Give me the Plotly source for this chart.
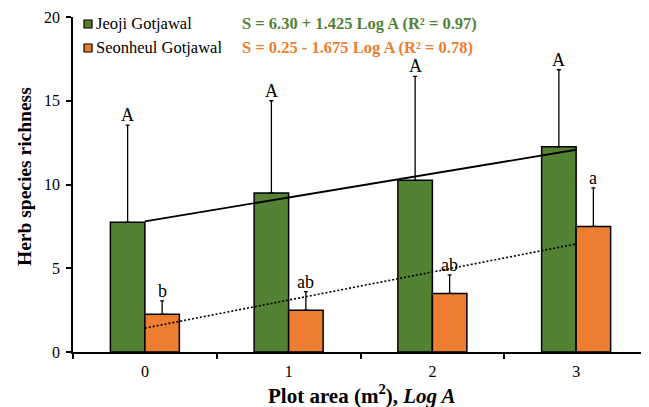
import numpy as np
import plotly.graph_objects as go

categories = ["0", "1", "2", "3"]
log_a = [0, 1, 2, 3]
jeoji = [7.75, 9.5, 10.25, 12.25]
jeoji_err = [5.8, 5.5, 6.2, 4.6]
seonheul = [2.25, 2.5, 3.5, 7.5]
seonheul_err = [0.8, 1.1, 1.1, 2.3]
jeoji_letters = ["A", "A", "A", "A"]
seonheul_letters = ["b", "ab", "ab", "a"]
series_names = ["Jeoji Gotjawal", "Seonheul Gotjawal"]
jeoji_eq = "S = 6.30 + 1.425 Log A (R² = 0.97)"
seonheul_eq = "S = 0.25 - 1.675 Log A (R² = 0.78)"
x_title = "<b>Plot area (m<sup>2</sup>), <i>Log A</i></b>"
y_title = "<b>Herb species richness</b>"

GREEN = "#548235"
ORANGE = "#ED7D31"
FONT = "Liberation Serif, Times New Roman, serif"

# page body has an 8px margin: shrink/shift the figure so it lands where the reference is
OFF = 8
W, H = 649 - OFF, 407 - OFF
ML, MR, MT, MB = 73 - OFF, 1, 17 - OFF, 407 - 352
PW, PH = W - ML - MR, H - MT - MB


def px_x(p):
    return (p - OFF - ML) / PW


def px_y(p):
    return (H - MB - (p - OFF)) / PH


fig = go.Figure()
fig.add_trace(go.Bar(
    x=categories, y=jeoji, name=series_names[0], showlegend=False,
    marker=dict(color=GREEN, line=dict(color="black", width=1.5)),
    error_y=dict(type="data", symmetric=False, array=jeoji_err,
                 arrayminus=[0] * 4, color="black", thickness=1.3, width=2),
))
fig.add_trace(go.Bar(
    x=categories, y=seonheul, name=series_names[1], showlegend=False,
    marker=dict(color=ORANGE, line=dict(color="black", width=1.5)),
    error_y=dict(type="data", symmetric=False, array=seonheul_err,
                 arrayminus=[0] * 4, color="black", thickness=1.3, width=2),
))

# linear trend lines (least squares on the bar means)
for vals, dash, wd in ((jeoji, "solid", 1.8), (seonheul, "2px,2px", 1.6)):
    slope, icpt = np.polyfit(log_a, vals, 1)
    xs = [log_a[0], log_a[-1]]
    fig.add_trace(go.Scatter(
        x=[categories[0], categories[-1]], y=[icpt + slope * v for v in xs],
        mode="lines", line=dict(color="black", width=wd, dash=dash),
        showlegend=False, hoverinfo="skip",
    ))

off = 0.12
for i in range(len(categories)):
    fig.add_annotation(x=i - off, y=jeoji[i] + jeoji_err[i], text=jeoji_letters[i],
                       showarrow=False, yanchor="bottom", yshift=-2,
                       font=dict(family=FONT, size=18, color="black"))
    fig.add_annotation(x=i + off, y=seonheul[i] + seonheul_err[i], text=seonheul_letters[i],
                       showarrow=False, yanchor="bottom", yshift=-2,
                       font=dict(family=FONT, size=18, color="black"))

# manual legend (small squares + labels) and regression equations
rows_y = [24, 48]
for name, col, eq, ry in ((series_names[0], GREEN, jeoji_eq, rows_y[0]),
                          (series_names[1], ORANGE, seonheul_eq, rows_y[1])):
    fig.add_shape(type="rect", xref="paper", yref="paper",
                  x0=px_x(84), x1=px_x(92), y0=px_y(ry + 4), y1=px_y(ry - 4),
                  fillcolor=col, line=dict(color="black", width=1.2))
    fig.add_annotation(xref="paper", yref="paper", x=px_x(94), y=px_y(ry),
                       xanchor="left", yanchor="middle", text=name, showarrow=False,
                       font=dict(family=FONT, size=16.5, color="black"))
    fig.add_annotation(xref="paper", yref="paper", x=px_x(240), y=px_y(ry),
                       xanchor="left", yanchor="middle", text="<b>" + eq + "</b>",
                       showarrow=False, font=dict(family=FONT, size=16.5, color=col))

# axis titles
fig.add_annotation(xref="paper", yref="paper", x=px_x(362), y=px_y(394),
                   xanchor="center", yanchor="middle", text=x_title, showarrow=False,
                   font=dict(family=FONT, size=21, color="black"))
fig.add_annotation(xref="paper", yref="paper", x=px_x(24), y=px_y(177),
                   xanchor="center", yanchor="middle", text=y_title, showarrow=False,
                   textangle=-90, font=dict(family=FONT, size=19.5, color="black"))

fig.update_layout(
    width=W, height=H,
    margin=dict(l=ML, r=MR, t=MT, b=MB, autoexpand=False),
    paper_bgcolor="white", plot_bgcolor="white",
    barmode="group", bargap=0.52, bargroupgap=0,
    font=dict(family=FONT, size=16, color="black"),
    showlegend=False,
    xaxis=dict(type="category", showline=True, linecolor="black", linewidth=1.5,
               ticks="outside", tickson="boundaries", ticklen=5, tickcolor="black",
               tickwidth=1.5, showgrid=False, zeroline=False, automargin=False,
               ticklabelstandoff=4,
               tickfont=dict(family=FONT, size=16, color="black")),
    yaxis=dict(range=[0, 20], dtick=5, showline=True, linecolor="black", linewidth=1.5,
               ticks="outside", ticklen=5, tickcolor="black", tickwidth=1.5,
               showgrid=False, zeroline=False, automargin=False,
               ticklabelstandoff=3,
               tickfont=dict(family=FONT, size=16, color="black")),
)

fig.write_html("out.html")
